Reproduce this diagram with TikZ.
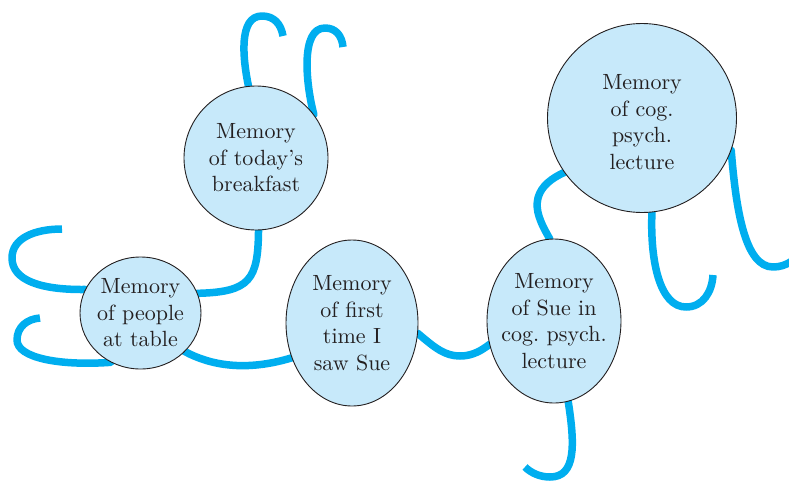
\documentclass[tikz,border=0pt]{standalone}
\usepackage{fontspec}
\setmainfont{lmroman10-regular}[Extension=.otf]
\usetikzlibrary{shapes.geometric}
\definecolor{strandblue}{HTML}{00AEEF}
\definecolor{nodefill}{HTML}{C7E9FA}
\definecolor{nodeline}{HTML}{231F20}
\definecolor{textgray}{HTML}{231F20}
\pgfdeclarelayer{background}
\pgfsetlayers{background,main}
\begin{document}
\begin{tikzpicture}[x=1pt,y=-1pt,
  memory/.style={ellipse, draw=nodeline, line width=0.9pt, fill=nodefill,
    inner sep=-14pt, align=center, text=textgray,
    font=\fontsize{22}{26.5}\selectfont\frenchspacing},
  strand/.style={draw=strandblue, line width=7.5pt, line join=round}]
\useasboundingbox (0,0) rectangle (789,485);

% memory traces
\node[memory, minimum width=144, minimum height=144] (breakfast) at (256,158)
  {Memory\\of today’s\\breakfast};
\node[memory, minimum width=121, minimum height=112] (people) at (140.5,313)
  {Memory\\of people\\at table};
\node[memory, minimum width=132, minimum height=166] (first) at (352,323)
  {Memory\\of first\\time I\\saw Sue};
\node[memory, minimum width=134, minimum height=164] (sue) at (554,321)
  {Memory\\of Sue in\\cog. psych.\\lecture};
% the invisible rule lets this label sit a little below the circle's centre
\node[memory, minimum width=189, minimum height=189] (cog) at (642,118)
  {\rule{0pt}{23.5pt}Memory\\of cog.\\psych.\\lecture};

% loose ends of the strands
\coordinate (endA) at (283,36);
\coordinate (endB) at (343,47);
\coordinate (endD) at (62,229);
\coordinate (endE) at (40,318);
\coordinate (endH) at (525,467);
\coordinate (endJ) at (713,275);
\coordinate (endK) at (792,261);

\begin{pgfonlayer}{background}
  % strands leaving the breakfast memory
  \draw[strand] (breakfast.center) -- (breakfast.96)
    .. controls (243,60) and (238,16) .. (262,16)
    .. controls (274,16) and (281,24) .. (endA);
  \draw[strand] (breakfast.center) -- (breakfast.37)
    .. controls (306,85) and (300,28) .. (325,28)
    .. controls (336,28) and (342,36) .. (endB);
  \draw[strand] (breakfast.center) -- (breakfast.272)
    .. controls (258,280) and (250,292) .. (people.19) -- (people.center);
  % strands around the people memory
  \draw[strand] (people.center) -- (people.157)
    .. controls (40,290) and (12,280) .. (12,258)
    .. controls (12,238) and (35,229) .. (endD);
  \draw[strand] (people.center) -- (people.239)
    .. controls (60,366) and (17,358) .. (17,340)
    .. controls (17,327) and (27,319) .. (endE);
  \draw[strand] (people.center) -- (people.-41)
    .. controls (210,365) and (245,372) .. (first.210) -- (first.center);
  % chain towards the lecture memories
  \draw[strand] (first.center) -- (first.-9)
    .. controls (435,348) and (445,356) .. (460,356)
    .. controls (473,356) and (482,350) .. (sue.200) -- (sue.center);
  \draw[strand] (sue.center) -- (sue.280)
    .. controls (575,445) and (576,477) .. (550,477)
    .. controls (540,477) and (531,473) .. (endH);
  \draw[strand] (sue.center) -- (sue.93)
    .. controls (540,222) and (535,210) .. (538,198)
    .. controls (541,186) and (552,178) .. (cog.215) -- (cog.center);
  % strands hanging from the lecture memory
  \draw[strand] (cog.center) -- (cog.276)
    .. controls (650,262) and (660,307) .. (686,307)
    .. controls (703,307) and (712,292) .. (endJ);
  \draw[strand] (cog.center) -- (cog.340)
    .. controls (736,210) and (745,267) .. (773,267)
    .. controls (780,267) and (786,265) .. (endK);
\end{pgfonlayer}
\end{tikzpicture}
\end{document}
